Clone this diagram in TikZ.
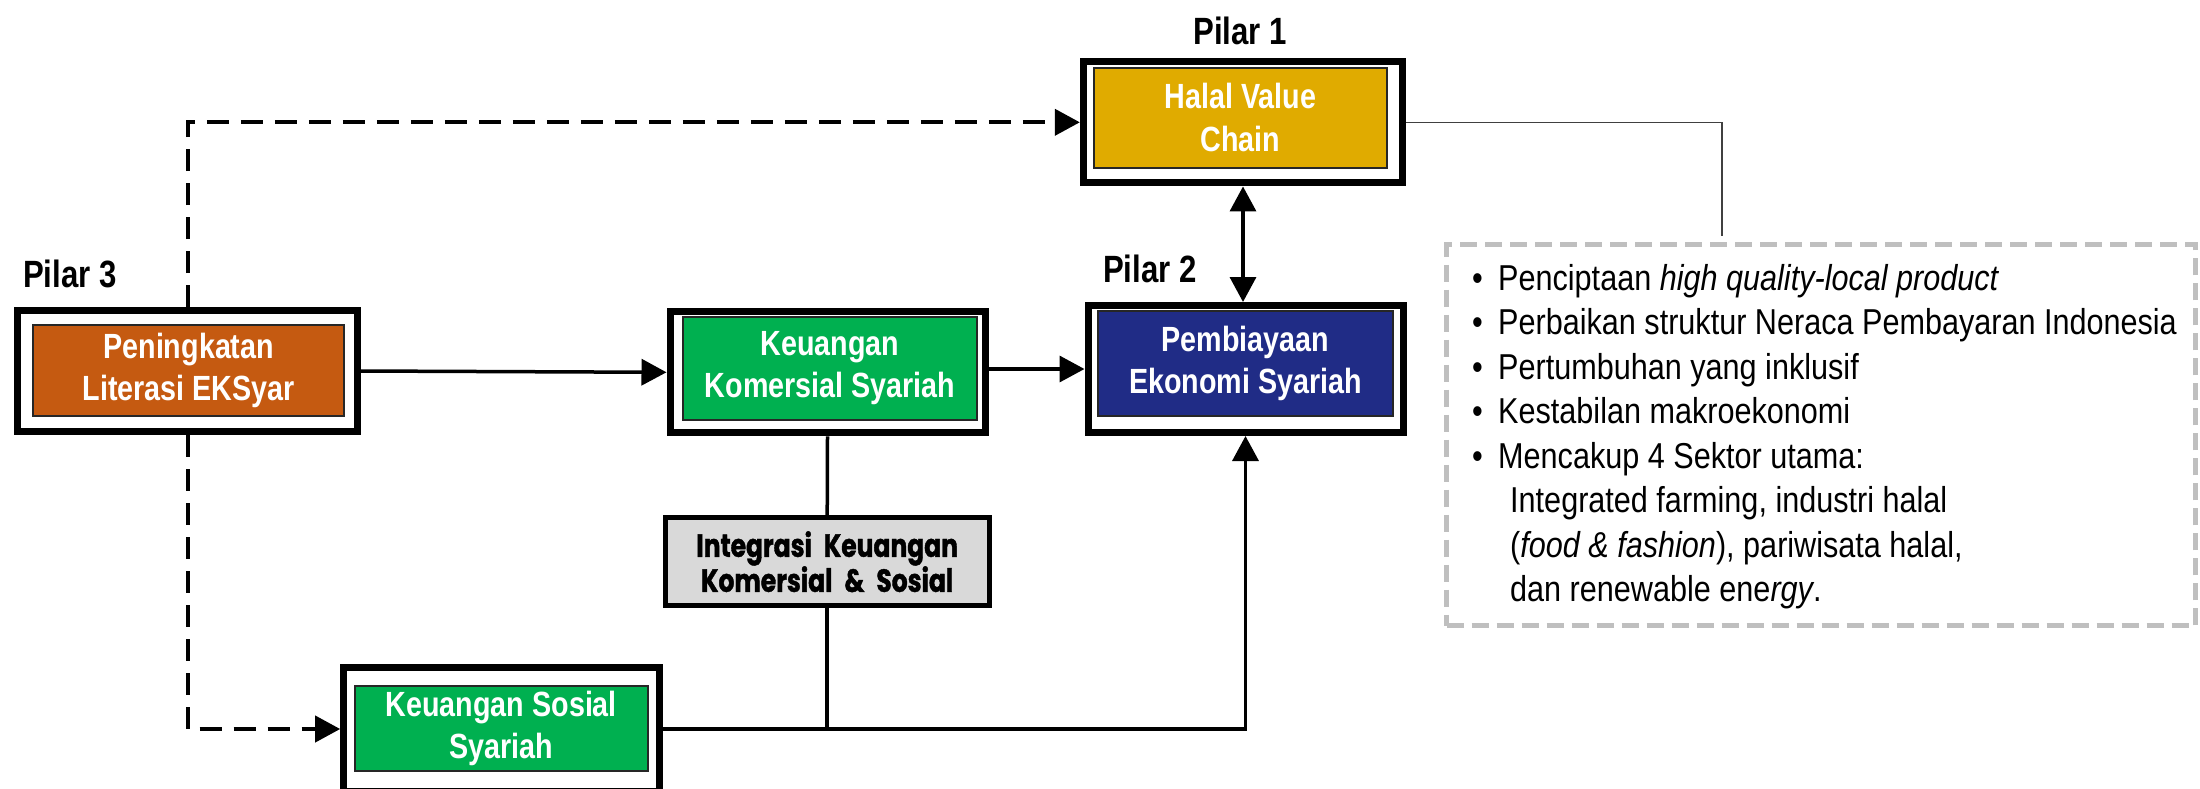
\documentclass[tikz,border=0pt]{standalone}
\usepackage{fontspec}
\setmainfont{Liberation Sans}
\newfontfamily\boxfont{Liberation Sans}[FakeStretch=0.82]
\newfontfamily\notefont{Liberation Sans}[FakeStretch=0.85]
\newfontfamily\integfont{Poppins}[FakeStretch=0.78,FakeBold=1.2]
\usetikzlibrary{arrows.meta}

\definecolor{litorange}{RGB}{197,90,17}
\definecolor{fingreen}{RGB}{0,176,80}
\definecolor{econblue}{RGB}{32,44,134}
\definecolor{halalgold}{RGB}{224,171,0}
\definecolor{integgray}{RGB}{217,217,217}
\definecolor{notegray}{RGB}{191,191,191}

\newcommand{\bul}{\makebox[26pt][l]{•}}
\newcommand{\wgap}{\hspace{12pt}}

\begin{document}
\begin{tikzpicture}[x=1pt,y=-1pt,
  >={Triangle[length=25pt,width=26pt]},
  frame/.style={draw=black, line width=7pt, fill=white, inner sep=0pt, outer sep=3.5pt},
  pillar/.style={draw=black!85, line width=2pt, inner sep=0pt, text=white, align=center,
    font=\boxfont\bfseries\fontsize{35}{42.5}\selectfont},
  pilarlabel/.style={inner sep=0pt, font=\boxfont\bfseries\fontsize{38}{40}\selectfont},
  link/.style={line width=3.5pt},
  dashlink/.style={line width=4pt, dash pattern=on 22pt off 12pt},
  notebox/.style={draw=notegray, line width=5pt, dash pattern=on 17pt off 8pt, inner sep=0pt},
  feed/.style={line width=1.3pt, draw=black!75}]

\useasboundingbox (0,0) rectangle (2200,788);
\clip (0,0) rectangle (2200,788);
\fill[white] (0,0) rectangle (2200,788);

% Pilar 3: literacy
\node[pilarlabel, anchor=base west] (lab3) at (23,287) {Pilar 3};
\node[frame, minimum width=340pt, minimum height=121pt] (lit) at (187.5,371) {};
\node[pillar, fill=litorange, minimum width=310.7pt, minimum height=91pt] (litin) at (188.7,370.5)
  {Peningkatan\\Literasi EKSyar};

% Commercial finance
\node[frame, minimum width=315pt, minimum height=121.3pt] (kom) at (827.5,372.3) {};
\node[pillar, fill=fingreen, minimum width=294.7pt, minimum height=103pt] (komin) at (830,368.3)
  {Keuangan\\Komersial Syariah};

% Pilar 2: financing
\node[pilarlabel, anchor=base west] (lab2) at (1103,282) {Pilar 2};
\node[frame, minimum width=315pt, minimum height=127pt] (pemb) at (1245.5,369) {};
\node[pillar, fill=econblue, minimum width=294.3pt, minimum height=105pt] (pembin) at (1245.5,363.5)
  {Pembiayaan\\Ekonomi Syariah};

% Pilar 1: halal value chain
\node[pilarlabel, anchor=base] (lab1) at (1240,44) {Pilar 1};
\node[frame, minimum width=319.3pt, minimum height=121.3pt] (halal) at (1243,122.3) {};
\node[pillar, fill=halalgold, minimum width=292.3pt, minimum height=100pt] (halalin) at (1240.5,117.7)
  {Halal Value\\Chain};

% Social finance
\node[frame, minimum width=316pt, minimum height=124pt] (sos) at (501.7,729) {};
\node[pillar, fill=fingreen, minimum width=292.7pt, minimum height=84.7pt] (sosin) at (501.3,728.3)
  {Keuangan Sosial\\Syariah};

% Integration of commercial and social finance
\node[draw=black, line width=5pt, fill=integgray, minimum width=324pt, minimum height=88pt,
  inner sep=0pt, outer sep=2.5pt, align=center,
  font=\integfont\bfseries\fontsize{32}{35}\selectfont] (integ) at (827.2,561.7)
  {Integrasi\wgap Keuangan\\Komersial\wgap\&\wgap Sosial};

% Outcomes
\node[notebox, minimum width=749.3pt, minimum height=381.3pt] (note) at (1821.3,435.3) {};
\node[inner sep=0pt, anchor=base west] (notelist) at (1472,290) {\vtop{\notefont\fontsize{36}{44.5}\selectfont
  \hbox{\bul Penciptaan \textit{high quality-local product}}
  \hbox{\bul Perbaikan struktur Neraca Pembayaran Indonesia}
  \hbox{\bul Pertumbuhan yang inklusif}
  \hbox{\bul Kestabilan makroekonomi}
  \hbox{\bul Mencakup 4 Sektor utama:}
  \hbox{\hspace{38pt}Integrated farming, industri halal}
  \hbox{\hspace{38pt}(\textit{food \& fashion}), pariwisata halal,}
  \hbox{\hspace{38pt}dan renewable ene\textit{rgy}.}}};

% Connectors
\draw[dashlink, ->] (lit.north) |- (halal.west);
\draw[dashlink, ->] (lit.south) |- (sos.west);
\draw[link, ->] (lit.east) -- (kom.west);
\draw[link, ->] (kom.east |- pemb.west) -- (pemb.west);
\draw[link, <->] (halal.south) -- (halal.south |- pemb.north);
\draw[link] (kom.south) -- (integ.north);
\coordinate (merge) at (integ.south |- sos.east);
\draw[link] (integ.south) -- (merge);
\draw[link, ->] (sos.east) -| (pemb.south);
\coordinate (noteend) at (1722,236);
\draw[feed] (halal.east) -| (noteend);
\end{tikzpicture}
\end{document}
